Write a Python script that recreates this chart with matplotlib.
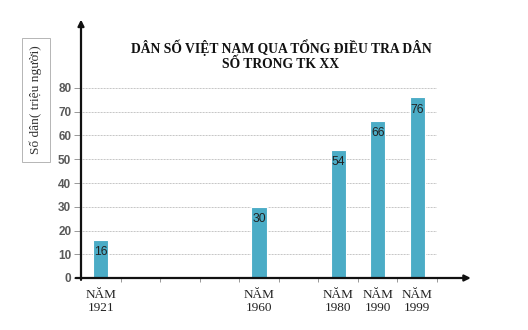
import numpy as np
import matplotlib.pyplot as plt

# Dân số Việt Nam qua các cuộc tổng điều tra (triệu người)
nam = ['1921', '', '', '', '1960', '', '1980', '1990', '1999']
dan_so = [16, None, None, None, 30, None, 54, 66, 76]
y_ticks = [0, 10, 20, 30, 40, 50, 60, 70, 80]

mau_cot = '#4bacc6'
serif = ['Liberation Serif', 'DejaVu Serif']

fig = plt.figure(figsize=(5.28, 3.3), dpi=100)
ax = fig.add_axes([81 / 528, 52 / 330, 356 / 528, 190 / 330])

x = np.arange(len(nam))
xs = [i for i, v in zip(x, dan_so) if v is not None]
vs = [v for v in dan_so if v is not None]
ax.bar(xs, vs, width=0.38, color=mau_cot, edgecolor='white', linewidth=0.8, zorder=3)

# nhãn giá trị trong cột
for xi, v in zip(xs, vs):
    ax.text(xi, v - 2.6, str(v), ha='center', va='top', fontsize=8.7,
            family='Liberation Sans', color='#222222', zorder=4)

ax.set_xlim(-0.5, len(nam) - 0.5)
ax.set_ylim(0, 80)

# lưới ngang chấm
for yv in y_ticks[1:]:
    ax.axhline(yv, color='#b0b0b0', linestyle=(0, (1, 0.8)), linewidth=0.6, zorder=1)

for s in ax.spines.values():
    s.set_visible(False)

ax.set_yticks(y_ticks)
ax.set_yticklabels([str(t) for t in y_ticks], fontsize=8.5, fontweight='bold',
                   color='#595959', family='Liberation Sans')
ax.tick_params(axis='y', length=5, width=0.6, color='#888888', pad=2)

# vạch chia trục hoành giữa các ô
ax.set_xticks(np.arange(len(nam)) + 0.5)
ax.set_xticklabels([])
ax.tick_params(axis='x', length=3, width=0.6, color='#888888', direction='out')

for xi, n in zip(x, nam):
    if n:
        ax.text(xi, -4.5, 'NĂM\n' + n, ha='center', va='top', fontsize=9.5,
                family=serif, color='#222222', linespacing=1.1, clip_on=False)

# trục có mũi tên
ax.annotate('', xy=(1.095, 0), xytext=(-0.015, 0), xycoords='axes fraction',
            arrowprops=dict(arrowstyle='-|>', color='#111111', lw=1.6,
                            mutation_scale=9, shrinkA=0, shrinkB=0))
ax.annotate('', xy=(0, 1.36), xytext=(0, -0.01), xycoords='axes fraction',
            arrowprops=dict(arrowstyle='-|>', color='#111111', lw=1.6,
                            mutation_scale=9, shrinkA=0, shrinkB=0))

fig.text(281 / 528, 1 - 55 / 330, 'DÂN SỐ VIỆT NAM QUA TỔNG ĐIỀU TRA DÂN\nSỐ TRONG TK XX',
         ha='center', va='center', fontsize=9.8, fontweight='bold', family=serif,
         color='#111111', linespacing=1.15)
fig.text(36 / 528, 1 - 100 / 330, 'Số dân( triệu người)', rotation=90,
         ha='center', va='center', fontsize=9.6, family=serif, color='#333333',
         bbox=dict(boxstyle='square,pad=0.55', facecolor='white', edgecolor='#aaaaaa', lw=0.6))

fig.savefig('out.png', dpi=100)
